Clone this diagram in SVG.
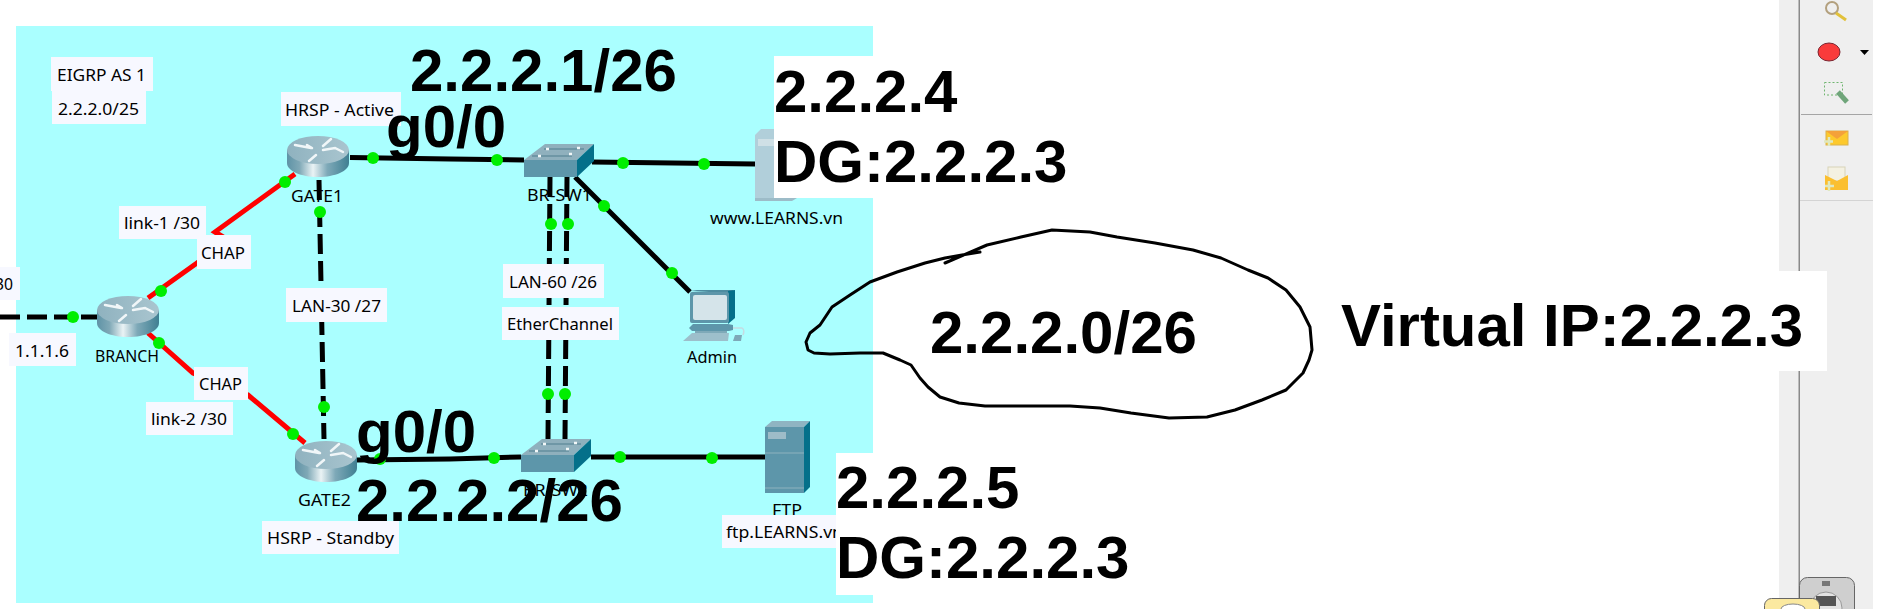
<svg xmlns="http://www.w3.org/2000/svg" width="1890" height="609" viewBox="0 0 1890 609">
<style>
.lb{font-family:"Noto Sans","Liberation Sans",sans-serif;font-size:17px;fill:#000}
.big{font-family:"Liberation Sans",Arial,sans-serif;font-weight:700;font-size:60px;fill:#000}
.box{fill:#f7f8ff}
.wbox{fill:#fff}
.blk{fill:none;stroke:#000;stroke-width:5}
.dash{fill:none;stroke:#000;stroke-width:5;stroke-dasharray:20 7}
.red{fill:none;stroke:#f00;stroke-width:5}
.dot{fill:#00ee00}
.arrow{fill:none;stroke:#f0f6f8;stroke-width:2.5;stroke-linecap:round}
</style>
<defs>
<linearGradient id="cyl" x1="0" x2="1" y1="0" y2="0">
<stop offset="0" stop-color="#5f93a6"/><stop offset=".2" stop-color="#7fa8b6"/><stop offset=".42" stop-color="#eaf3f5"/><stop offset=".65" stop-color="#7ea9b8"/><stop offset="1" stop-color="#3f7f92"/>
</linearGradient>
<linearGradient id="topf" x1="0" x2="1" y1="0" y2="0">
<stop offset="0" stop-color="#8fb2bf"/><stop offset="1" stop-color="#a9c5cf"/>
</linearGradient>
<g id="router">
<path d="M0 14V27C0 35 14 41 31 41S62 35 62 27V14Z" fill="url(#cyl)"/>
<ellipse cx="31" cy="14" rx="31" ry="14" fill="url(#topf)"/>
<path class="arrow" d="M8 9L24 12M25 12L20 9M36 10L44 3M36 14L48 12L56 16M29 19L22 25"/>
</g>
<g id="switch">
<path d="M0 16L21 0H70L53 16Z" fill="#8fb0bd"/>
<rect x="0" y="16" width="53" height="17" fill="#5d96aa"/>
<path d="M53 16L70 0V17L53 33Z" fill="#04708a"/>
<path d="M8 12h40M20 5h40" stroke="#6f97a6" stroke-width="2"/>
<path d="M22 5h3M53 4h3M45 10h3M14 12h3" stroke="#f2f7f8" stroke-width="2.5"/>
</g>
</defs>

<rect x="0" y="0" width="1890" height="609" fill="#fff"/>
<rect x="16" y="26" width="857" height="577" fill="#aaffff"/>

<g id="panel">
<rect x="1779" y="0" width="94" height="609" fill="#efefef"/>
<rect x="1798.500" y="0" width="1.500" height="609" fill="#8a8a8a"/>
<rect x="1801" y="114" width="71" height="1" fill="#a5a5a5"/>
<rect x="1800" y="200" width="73" height="1" fill="#d4d4d4"/>
<circle cx="1832" cy="8" r="6" fill="none" stroke="#b3a07e" stroke-width="2"/>
<path d="M1836 13L1846 20" stroke="#e2c13a" stroke-width="3"/>
<ellipse cx="1829" cy="52" rx="11" ry="9" fill="#f93b3b" stroke="#7a2430" stroke-width="1"/>
<path d="M1860 50h9l-4.500 5Z" fill="#000"/>
<rect x="1824.500" y="82.500" width="18" height="12.500" fill="none" stroke="#6fb56f" stroke-dasharray="2 2"/>
<path d="M1838 92L1847 102" stroke="#6fa57a" stroke-width="5"/>
<rect x="1826" y="131" width="22" height="14" fill="#fdc92c" stroke="#d9b24f"/>
<path d="M1826 131L1837 139L1848 131" fill="#f4a13a"/>
<path d="M1829 137v9M1824 141.500h9" stroke="#dfe8c0" stroke-width="2.500"/>
<rect x="1828" y="167" width="17" height="14" fill="#f4f1e2" stroke="#d8d3b8"/>
<path d="M1825 175L1837 181L1848 175V190H1825Z" fill="#fbbf30"/>
<path d="M1829 181v10M1825 186h9" stroke="#dfe8c0" stroke-width="2.500"/>
<rect x="1799.500" y="577.500" width="55" height="50" rx="8" fill="#cfcfcf" stroke="#666"/>
<circle cx="1826" cy="608" r="16" fill="#e3e3e3" stroke="#999"/>
<rect x="1822" y="581" width="8" height="5" fill="#777"/>
<rect x="1816" y="596" width="20" height="10" fill="#555"/>
<rect x="1764.500" y="598.500" width="55" height="30" rx="7" fill="#fbe9a0" stroke="#666"/>
<ellipse cx="1793" cy="609" rx="12" ry="5" fill="#fff" stroke="#888"/>
</g>

<g id="device-names">
<text class="lb" x="95" y="362" textLength="64" lengthAdjust="spacingAndGlyphs">BRANCH</text>
<text class="lb" x="291" y="202" textLength="52" lengthAdjust="spacingAndGlyphs">GATE1</text>
<text class="lb" x="298" y="506" textLength="53" lengthAdjust="spacingAndGlyphs">GATE2</text>
<text class="lb" x="527" y="201" textLength="65" lengthAdjust="spacingAndGlyphs">BR-SW1</text>
<text class="lb" x="523" y="496" textLength="65" lengthAdjust="spacingAndGlyphs">BR-SW2</text>
<text class="lb" x="710" y="224" textLength="133" lengthAdjust="spacingAndGlyphs">www.LEARNS.vn</text>
<text class="lb" x="687" y="363" textLength="50" lengthAdjust="spacingAndGlyphs">Admin</text>
<text class="lb" x="772" y="516" textLength="30" lengthAdjust="spacingAndGlyphs">FTP</text>
</g>

<g id="connectors">
<path class="blk" d="M350 157.500L450 159L524 160"/>
<path class="blk" d="M592 162L755 164"/>
<path class="blk" d="M575 177L690 292"/>
<path class="blk" d="M357 460L450 459L521 457"/>
<path class="blk" d="M591 457H765"/>
<path class="dash" d="M319 180L324 439"/>
<path class="dash" d="M550 177L548 439"/>
<path class="dash" d="M567 177L565 439"/>
<path class="dash" stroke-dasharray="21 4" d="M0 317H97"/>
<path class="red" d="M295 174L215 232L228 240L197 263L148 298"/>
<path class="red" d="M148 333L193 373L248 395L305 443"/>
</g>

<g id="BRANCH"><use href="#router" x="97" y="296"/></g>
<g id="GATE1"><use href="#router" x="287" y="136"/></g>
<g id="GATE2"><use href="#router" x="295" y="441"/></g>
<g id="BR-SW1"><use href="#switch" x="524" y="144"/></g>
<g id="BR-SW2"><use href="#switch" x="521" y="439"/></g>
<g id="www">
<path d="M755 135L761 129H790V198H755Z" fill="#b1cfda"/>
<rect x="758" y="139" width="30" height="7" fill="#cfe0e6"/>
<path d="M755 198H797L792 201H755Z" fill="#9dbcc8"/>
</g>
<g id="FTP">
<path d="M765 427L772 421H810L804 427Z" fill="#8fb4c2"/>
<rect x="765" y="427" width="39" height="66" fill="#5d96aa"/>
<path d="M804 427L810 421V487L804 493Z" fill="#04708a"/>
<rect x="768" y="432" width="18" height="7" fill="#9ebcc8"/>
<path d="M765 453H804M765 488H804" stroke="#7ea9b8" stroke-width="1.500"/>
</g>
<g id="Admin">
<path d="M690 291L697 290H735L728 293Z" fill="#4d8ca0"/>
<path d="M728 291L735 290V318L728 324Z" fill="#04708a"/>
<rect x="690" y="292" width="39" height="31" rx="2" fill="#5d96aa"/>
<rect x="693" y="295" width="34" height="25" rx="2" fill="#d5e4ea"/>
<path d="M693 324H728L733 325V330L729 331H692L689 328Z" fill="#5d96aa"/>
<rect x="695" y="331" width="32" height="2" fill="#7ea9b8"/>
<path d="M692 333H729L728 341H683Z" fill="#9dbfcb"/>
<path d="M733 328H742Q745 330 743 335" fill="none" stroke="#c5dbe2" stroke-width="1.500"/>
<path d="M735 335H742L741 341H733Z" fill="#7ea9b8"/>
</g>

<g id="link-dots">
<circle class="dot" cx="73" cy="317" r="6"/>
<circle class="dot" cx="373" cy="158" r="6"/>
<circle class="dot" cx="497" cy="160" r="6"/>
<circle class="dot" cx="623" cy="163" r="6"/>
<circle class="dot" cx="704" cy="164" r="6"/>
<circle class="dot" cx="604" cy="206" r="6"/>
<circle class="dot" cx="672" cy="273" r="6"/>
<circle class="dot" cx="320" cy="212" r="6"/>
<circle class="dot" cx="324" cy="407" r="6"/>
<circle class="dot" cx="285" cy="182" r="6"/>
<circle class="dot" cx="161" cy="291" r="6"/>
<circle class="dot" cx="159" cy="343" r="6"/>
<circle class="dot" cx="293" cy="434" r="6"/>
<circle class="dot" cx="551" cy="224" r="6"/>
<circle class="dot" cx="568" cy="224" r="6"/>
<circle class="dot" cx="548" cy="394" r="6"/>
<circle class="dot" cx="565" cy="394" r="6"/>
<circle class="dot" cx="380" cy="459" r="6"/>
<circle class="dot" cx="494" cy="458" r="6"/>
<circle class="dot" cx="620" cy="457" r="6"/>
<circle class="dot" cx="712" cy="458" r="6"/>
</g>

<g id="labels">
<rect class="box" x="51" y="57" width="102" height="34"/><text class="lb" x="57" y="81" textLength="89" lengthAdjust="spacingAndGlyphs">EIGRP AS 1</text>
<rect class="box" x="52" y="91" width="94" height="33"/><text class="lb" x="58" y="115" textLength="81" lengthAdjust="spacingAndGlyphs">2.2.2.0/25</text>
<rect class="box" x="281" y="92" width="120" height="34"/><text class="lb" x="285" y="116" textLength="109" lengthAdjust="spacingAndGlyphs">HRSP - Active</text>
<rect class="box" x="119" y="206" width="87" height="33"/><text class="lb" x="124" y="229" textLength="76" lengthAdjust="spacingAndGlyphs">link-1 /30</text>
<rect class="box" x="197" y="235" width="54" height="34"/><text class="lb" x="201" y="259" textLength="44" lengthAdjust="spacingAndGlyphs">CHAP</text>
<rect class="box" x="286" y="288" width="101" height="34"/><text class="lb" x="292" y="312" textLength="89" lengthAdjust="spacingAndGlyphs">LAN-30 /27</text>
<rect class="box" x="0" y="267" width="20" height="33"/><text class="lb" x="-5" y="290" textLength="18" lengthAdjust="spacingAndGlyphs">30</text>
<rect class="box" x="9" y="333" width="67" height="33"/><text class="lb" x="15" y="357" textLength="54" lengthAdjust="spacingAndGlyphs">1.1.1.6</text>
<rect class="box" x="194" y="367" width="54" height="33"/><text class="lb" x="199" y="390" textLength="43" lengthAdjust="spacingAndGlyphs">CHAP</text>
<rect class="box" x="146" y="402" width="87" height="33"/><text class="lb" x="151" y="425" textLength="76" lengthAdjust="spacingAndGlyphs">link-2 /30</text>
<rect class="box" x="262" y="521" width="137" height="33"/><text class="lb" x="267" y="544" textLength="127" lengthAdjust="spacingAndGlyphs">HSRP - Standby</text>
<rect class="box" x="503" y="264" width="101" height="34"/><text class="lb" x="509" y="288" textLength="88" lengthAdjust="spacingAndGlyphs">LAN-60 /26</text>
<rect class="box" x="502" y="307" width="117" height="33"/><text class="lb" x="507" y="330" textLength="106" lengthAdjust="spacingAndGlyphs">EtherChannel</text>
<rect class="box" x="722" y="515" width="114" height="33"/><text class="lb" x="726" y="538" textLength="117" lengthAdjust="spacingAndGlyphs">ftp.LEARNS.vn</text>
</g>

<g id="annotations">
<polyline fill="none" stroke="#000" stroke-width="3" stroke-linejoin="round" stroke-linecap="round" points="980,252 962,255 945,258 925,263 897,272 870,282 850,295 832,307 820,325 810,333 806,342 808,350 814,353 830,354 860,353 883,353 900,360 911,365 920,378 928,387 940,397 959,403 985,406 1028,406 1070,406 1100,408 1131,413 1169,418 1207,417 1235,410 1262,400 1286,390 1298,378 1303,373 1309,360 1312,350 1310,327 1300,307 1286,290 1268,278 1248,270 1221,258 1193,250 1155,243 1117,237 1090,232 1052,230 1021,237 987,245 945,263"/>
<text class="big" x="930" y="353">2.2.2.0/26</text>
<rect class="wbox" x="1330" y="271" width="497" height="100"/>
<text class="big" x="1341" y="346" textLength="462" lengthAdjust="spacingAndGlyphs">Virtual IP:2.2.2.3</text>
<text class="big" x="410" y="91">2.2.2.1/26</text>
<text class="big" x="386" y="147">g0/0</text>
<rect class="wbox" x="774" y="56" width="99" height="142"/>
<text class="big" x="774" y="112">2.2.2.4</text>
<text class="big" x="774" y="182">DG:2.2.2.3</text>
<text class="big" x="356" y="452">g0/0</text>
<text class="big" x="356" y="521">2.2.2.2/26</text>
<rect class="wbox" x="836" y="453" width="37" height="142"/>
<text class="big" x="836" y="508">2.2.2.5</text>
<text class="big" x="836" y="578">DG:2.2.2.3</text>
</g>
</svg>
